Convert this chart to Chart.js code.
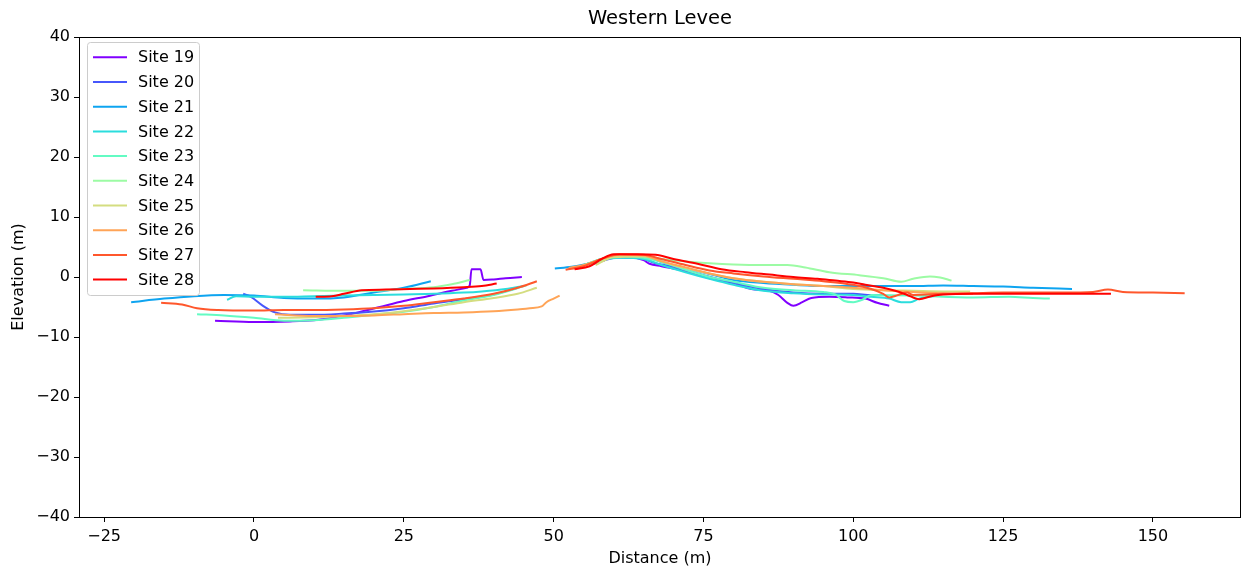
<!DOCTYPE html>
<html><head><meta charset="utf-8">
<script src="https://cdn.jsdelivr.net/npm/chart.js@4.4.0/dist/chart.umd.min.js"></script>
<style>html,body{margin:0;padding:0;background:#fff}</style>
</head><body>
<canvas id="c" width="1242" height="573"></canvas>
<script>
// ---- data (Distance m, Elevation m); null separates the two surveyed segments ----
const chartTitle = 'Western Levee';
const siteNames = ['Site 19','Site 20','Site 21','Site 22','Site 23','Site 24','Site 25','Site 26','Site 27','Site 28'];
const siteColors = ['#8000ff','#4757fb','#0ea4f0','#2bdddd','#63fbc3','#9cfba4','#d4dd80','#ffa457','#ff572c','#ff0000'];
const xTicks = [-25,0,25,50,75,100,125,150];
const yTicks = [-40,-30,-20,-10,0,10,20,30,40];

const site19 = [[-6.5,-7.3],[0,-7.5],[6,-7.4],[10,-7.2],[13,-6.8],[17,-6],[21,-5],[25,-4],[29,-3.2],[33,-2.3],[35.5,-1.8],[36,-1.4],[36.3,1.3],[37.8,1.3],[38.3,-0.5],[40,-0.4],[42,-0.2],[44.7,0],
  null,[56,2],[58,2.6],[60,3.3],[63,3.3],[65,2.8],[66,2.2],[68,1.8],[72,1],[76,-0.2],[80,-1],[83,-2],[86,-2.3],[87.5,-3],[89,-4.3],[90,-4.8],[91.5,-4.2],[93,-3.5],[96,-3.3],[99,-3.4],[102,-3.6],[104,-4.3],[106,-4.8]];
const site20 = [[-1.8,-2.8],[-0.5,-3.3],[1.5,-4.8],[3.5,-5.9],[6,-6.3],[10,-6.3],[15,-6.1],[19.5,-5.8],[25,-5.2],[30,-4.4],[35,-3.7],[40,-2.9],[44,-1.8],
  null,[55,2],[58,2.7],[61,3.3],[65,3],[67,2.3],[70,1.7],[75,0.3],[80,-1],[85,-2],[90,-2.6],[95,-2.8],[100,-2.8],[103,-3],[105,-3]];
const site21 = [[-20.5,-4.2],[-15,-3.6],[-10,-3.2],[-5,-3],[0,-3.1],[5,-3.5],[10,-3.6],[15,-3.4],[20,-2.6],[25,-1.8],[29.5,-0.7],
  null,[50.2,1.4],[53,1.7],[56,2.3],[58,3],[61,3.3],[66,3.2],[68,2.5],[72,1.5],[76,0.5],[80,-0.5],[85,-1],[90,-1.3],[95,-1.5],[100,-1.5],[105,-1.5],[110,-1.5],[115,-1.4],[120,-1.5],[125,-1.6],[130,-1.8],[136.5,-2]];
const site22 = [[-4.5,-3.8],[-3,-3.2],[0,-3.3],[5,-3.3],[10,-3.2],[15,-3.1],[20,-3],[25,-2.9],[30,-2.8],[35,-2.6],[38,-2.4],[42,-2],[45,-1.5],
  null,[55,2],[58,2.8],[61,3.2],[65,3],[68,2],[72,0.8],[76,-0.3],[80,-1.3],[85,-2.3],[90,-2.7],[95,-2.9],[100,-3],[103,-3.3],[106,-3.6],[108,-4.2],[109.5,-4.2],[111,-3.6],[114,-3.1]];
const site23 = [[-9.5,-6.2],[-5,-6.4],[0,-6.8],[5,-7.3],[10,-7.2],[15,-6.8],[20,-6.3],[25,-5.8],[30,-5],[35,-3.9],[40,-3],[45.5,-1.4],
  null,[55,2],[58,3],[61,3.5],[65,3.2],[68,2.5],[72,1.2],[76,0],[80,-0.8],[85,-1.8],[90,-2.2],[95,-2.5],[97,-2.9],[98.5,-4],[100,-4.2],[101.5,-3.8],[103,-3],[110,-3.1],[120,-3.4],[126,-3.3],[130,-3.5],[132.8,-3.6]];
const site24 = [[8.2,-2.2],[15,-2.3],[20,-2.3],[25,-2],[30,-1.7],[33,-1.2],[36,-0.5],
  null,[56,2],[58,2.8],[61,3.5],[65,3.5],[68,3],[72,2.6],[76,2.3],[80,2.1],[85,2],[89,2],[92,1.6],[96,0.8],[101,0.3],[105,-0.2],[108,-0.8],[110,-0.3],[112.8,0.1],[114.5,-0.1],[116.4,-0.6]];
const site25 = [[4,-6.8],[10,-6.7],[15,-6.5],[20,-6.2],[25,-5.7],[30,-5],[35,-4.2],[40,-3.5],[44,-2.8],[47.2,-1.8],
  null,[57,2],[60,3.3],[65,3.4],[70,2],[75,0.8],[80,-0.2],[85,-0.8],[90,-1.2],[95,-1.5],[100,-2],[105,-2.2],[110,-2.3],[115,-2.4],[119.5,-2.4]];
const site26 = [[3.5,-6.2],[10,-6.5],[15,-6.5],[20,-6.4],[25,-6.2],[30,-6],[35,-5.9],[40,-5.7],[44,-5.4],[46,-5.2],[48,-4.9],[48.8,-4.2],[50,-3.6],[51,-3.1],
  null,[52.5,1.5],[55,2],[58,3],[61,3.7],[65,3.6],[68,2.6],[72,1.6],[76,0.6],[80,-0.2],[85,-0.8],[90,-1.2],[95,-1.5],[100,-1.8],[105,-2.2],[110,-2.5],[115,-2.7],[120,-2.8]];
const site27 = [[-15.5,-4.3],[-12,-4.6],[-9.5,-5.2],[-6,-5.5],[0,-5.6],[5,-5.5],[10,-5.5],[15,-5.4],[20,-5.2],[25,-4.8],[30,-4.2],[35,-3.6],[40,-2.8],[44,-1.8],[47.2,-0.7],
  null,[52,1.2],[55,1.8],[58,3],[61,3.8],[65,3.7],[68,3],[72,2],[76,1.1],[80,0.6],[85,0.1],[90,-0.3],[95,-0.7],[100,-1.3],[103,-2],[105,-2.8],[106,-3.4],[107.5,-3],[109,-2.6],[110,-3],[115,-2.8],[120,-2.7],[125,-2.6],[130,-2.6],[135,-2.6],[140,-2.5],[142.5,-2.1],[145,-2.5],[150,-2.6],[155.3,-2.7]];
const site28 = [[10.3,-3.3],[13,-3.2],[15,-2.8],[18,-2.2],[22,-2.1],[26,-2],[30,-1.9],[35,-1.7],[38,-1.5],[40.5,-1.1],
  null,[53.5,1.3],[56,1.8],[58,3],[60,3.8],[64,3.8],[67,3.7],[70,3],[74,2.2],[78,1.3],[82,0.8],[86,0.4],[90,0],[94,-0.3],[97,-0.6],[100,-0.9],[102,-1.3],[105,-1.8],[107,-2.3],[109,-3],[111,-3.7],[113,-3.2],[115,-2.9],[120,-2.8],[125,-2.8],[130,-2.8],[135,-2.8],[143,-2.8]];

const siteData = [site19,site20,site21,site22,site23,site24,site25,site26,site27,site28];

// ---- build datasets ----
function toPoints(arr){
  const out = [];
  for (let i=0;i<arr.length;i++){
    const p = arr[i];
    if (p === null){
      const a = arr[i-1][0], b = arr[i+1][0];
      out.push({x:(a+b)/2, y:null});
    } else out.push({x:p[0], y:p[1]});
  }
  return out;
}
const datasets = siteData.map((d,i)=>({
  label: siteNames[i],
  data: toPoints(d),
  borderColor: siteColors[i],
  backgroundColor: siteColors[i],
  borderWidth: 2,
  pointRadius: 0,
  pointHoverRadius: 0,
  fill: false,
  spanGaps: false,
  cubicInterpolationMode: 'monotone',
  borderJoinStyle: 'round',
  order: siteData.length - 1 - i
}));

const FONT = 'DejaVu Sans';
const fmt = v => String(v).replace('-', '\u2212');

const framePlugin = {
  id: 'frame',
  afterDraw(chart){
    const {ctx, chartArea:a} = chart;
    ctx.save();
    // title centred over the plot area
    ctx.fillStyle = '#000';
    ctx.font = '19.5px "' + FONT + '"';
    ctx.textAlign = 'center';
    ctx.textBaseline = 'middle';
    ctx.fillText(chartTitle, (a.left + a.right) / 2, 19);
    // axes box
    ctx.strokeStyle = '#000';
    ctx.lineWidth = 1;
    ctx.strokeRect(Math.round(a.left)+0.5, Math.round(a.top)+0.5, Math.round(a.right-a.left)-1, Math.round(a.bottom-a.top));
    // legend
    const bx = 87.5, by = 42.5, bw = 112, bh = 253, r = 3;
    ctx.beginPath();
    ctx.moveTo(bx+r, by);
    ctx.lineTo(bx+bw-r, by); ctx.quadraticCurveTo(bx+bw, by, bx+bw, by+r);
    ctx.lineTo(bx+bw, by+bh-r); ctx.quadraticCurveTo(bx+bw, by+bh, bx+bw-r, by+bh);
    ctx.lineTo(bx+r, by+bh); ctx.quadraticCurveTo(bx, by+bh, bx, by+bh-r);
    ctx.lineTo(bx, by+r); ctx.quadraticCurveTo(bx, by, bx+r, by);
    ctx.closePath();
    ctx.fillStyle = 'rgba(255,255,255,0.8)';
    ctx.fill();
    ctx.strokeStyle = '#cccccc';
    ctx.stroke();
    ctx.font = '16px "' + FONT + '"';
    ctx.textBaseline = 'middle';
    ctx.textAlign = 'left';
    siteNames.forEach((n,i)=>{
      const y = 57.3 + i*24.7;
      ctx.beginPath();
      ctx.strokeStyle = siteColors[i];
      ctx.lineWidth = 2;
      ctx.moveTo(93, y); ctx.lineTo(127, y);
      ctx.stroke();
      ctx.fillStyle = '#000';
      ctx.fillText(n, 138, y+1);
    });
    ctx.restore();
  }
};

new Chart(document.getElementById('c'), {
  type: 'line',
  data: { datasets },
  plugins: [framePlugin],
  options: {
    responsive: false,
    animation: false,
    events: [],
    layout: { padding: { left: 0, right: 1, top: 37, bottom: 0 } },
    plugins: {
      legend: { display: false },
      tooltip: { enabled: false },
      title: { display: false }
    },
    scales: {
      x: {
        type: 'linear', min: -29.2, max: 164.7,
        afterBuildTicks: s => { s.ticks = xTicks.map(v => ({ value: v })); },
        afterFit: s => { s.height = 56; },
        ticks: { autoSkip: false, maxRotation: 0, color: '#000', padding: 5,
          font: { family: FONT, size: 16 }, callback: v => fmt(v) },
        grid: { drawOnChartArea: false, drawTicks: true, tickLength: 5, color: '#000', lineWidth: 1 },
        border: { display: false },
        title: { display: true, text: 'Distance (m)', color: '#000',
          font: { family: FONT, size: 16 }, padding: { top: 0, bottom: 5 } }
      },
      y: {
        type: 'linear', min: -40, max: 40,
        afterBuildTicks: s => { s.ticks = yTicks.map(v => ({ value: v })); },
        afterFit: s => { s.width = 79; },
        ticks: { autoSkip: false, color: '#000', padding: 4,
          font: { family: FONT, size: 16 }, callback: v => fmt(v) },
        grid: { drawOnChartArea: false, drawTicks: true, tickLength: 5, color: '#000', lineWidth: 1 },
        border: { display: false },
        title: { display: true, text: 'Elevation (m)', color: '#000',
          font: { family: FONT, size: 16 }, padding: { top: 9, bottom: 0 } }
      }
    }
  }
});
</script>
</body></html>
